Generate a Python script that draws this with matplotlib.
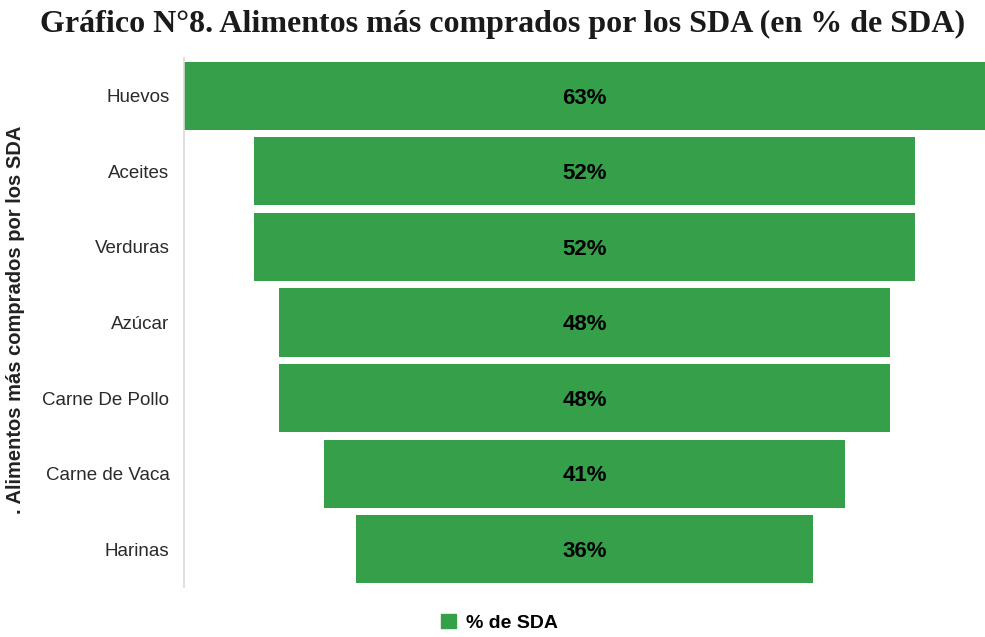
import matplotlib
matplotlib.use("Agg")
import matplotlib.pyplot as plt
from matplotlib.patches import Patch

categories = ["Huevos", "Aceites", "Verduras", "Azúcar", "Carne De Pollo", "Carne de Vaca", "Harinas"]
values = [63, 52, 52, 48, 48, 41, 36]
series_name = "% de SDA"
title = "Gráfico N°8. Alimentos más comprados por los SDA (en % de SDA)"
ylabel = ". Alimentos más comprados por los SDA"

green = "#35a049"

W, H = 985, 637
fig = plt.figure(figsize=(W / 100, H / 100), dpi=100)
ax = fig.add_axes([184 / W, 1 - 587 / H, (985 - 184) / W, (587 - 58) / H])

ypos = list(range(len(categories)))
lefts = [-v / 2 for v in values]
ax.barh(ypos, values, left=lefts, height=0.9, color=green)
for y, v in zip(ypos, values):
    ax.text(0, y + 0.03, f"{v}%", ha="center", va="center", fontsize=16, fontweight="bold",
            family=["Liberation Sans"], color="black")

vmax = max(values)
ax.set_xlim(-vmax / 2, vmax / 2)
ax.set_ylim(len(categories) - 0.5, -0.5)
ax.set_yticks(ypos)
ax.set_yticklabels(categories, fontsize=13.5, family=["Liberation Sans"], color="#2a2a2a")
ax.tick_params(axis="y", length=0, pad=10.5)
ax.set_xticks([])
for s in ["top", "right", "bottom"]:
    ax.spines[s].set_visible(False)
ax.spines["left"].set_color("#d9d9d9")
ax.spines["left"].set_linewidth(1.2)

fig.text(16 / W, 1 - 320 / H, ylabel, rotation=90, ha="center", va="center", fontsize=14.5,
         fontweight="bold", family=["Liberation Sans"], color="#222222")

fig.text(0.51, 0.962, title, ha="center", va="center", fontsize=23, fontweight="bold",
         family=["Liberation Serif"], color="#1a1a1a")

handles = [Patch(color=green, label=series_name)]
fig.legend(handles=handles, loc="center", bbox_to_anchor=(0.507, 0.022), frameon=False,
           prop={"family": "Liberation Sans", "weight": "bold", "size": 14}, handlelength=0.75,
           handleheight=0.75, handletextpad=0.5)

fig.savefig("out.png", dpi=100)
